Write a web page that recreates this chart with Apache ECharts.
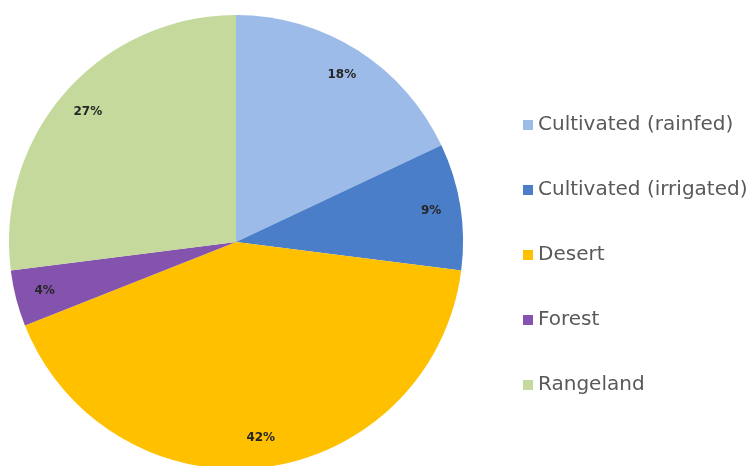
<!DOCTYPE html>
<html>
<head>
<meta charset="utf-8">
<script src="https://cdn.jsdelivr.net/npm/echarts@6/dist/echarts.min.js"></script>
<style>
  html, body { margin: 0; padding: 0; background: #fff; }
  #chart { width: 754px; height: 466px; }
</style>
</head>
<body>
<div id="chart"></div>
<script>
// land use shares, clockwise from 12 o'clock
var categories = ['Cultivated (rainfed)', 'Cultivated (irrigated)', 'Desert', 'Forest', 'Rangeland'];
var shares = [18, 9, 42, 4, 27];
var colors = ['#9dbbe8', '#4a7ec8', '#ffc000', '#8453ad', '#c4d99b'];

var myChart = echarts.init(document.getElementById('chart'));

var pieData = [];
var labelData = [];
for (var i = 0; i < categories.length; i++) {
    pieData.push({ name: categories[i], value: shares[i], itemStyle: { color: colors[i] } });
    labelData.push({ name: categories[i], value: shares[i] });
}

var option = {
    animation: false,
    backgroundColor: '#fff',
    legend: {
        orient: 'vertical',
        left: 518,
        top: 110,
        itemWidth: 10,
        itemHeight: 10,
        itemGap: 45,
        icon: 'rect',
        textStyle: {
            color: '#595959',
            fontSize: 20,
            fontFamily: 'DejaVu Sans'
        },
        data: categories
    },
    series: [{
        name: 'land',
        type: 'pie',
        center: [236, 242],
        radius: [0, 227],
        startAngle: 90,
        clockwise: true,
        label: { show: false },
        labelLine: { show: false },
        data: pieData
    }, {
        // transparent ring only used to place the % labels near the rim
        name: 'labels',
        type: 'pie',
        silent: true,
        center: [236, 242],
        radius: [162, 227],
        startAngle: 90,
        clockwise: true,
        itemStyle: { color: 'rgba(0,0,0,0)' },
        label: {
            show: true,
            position: 'inside',
            formatter: '{c}%',
            color: '#262626',
            fontSize: 12,
            fontWeight: 'bold',
            fontFamily: 'DejaVu Sans'
        },
        labelLine: { show: false },
        data: labelData
    }]
};
myChart.setOption(option);
</script>
</body>
</html>
